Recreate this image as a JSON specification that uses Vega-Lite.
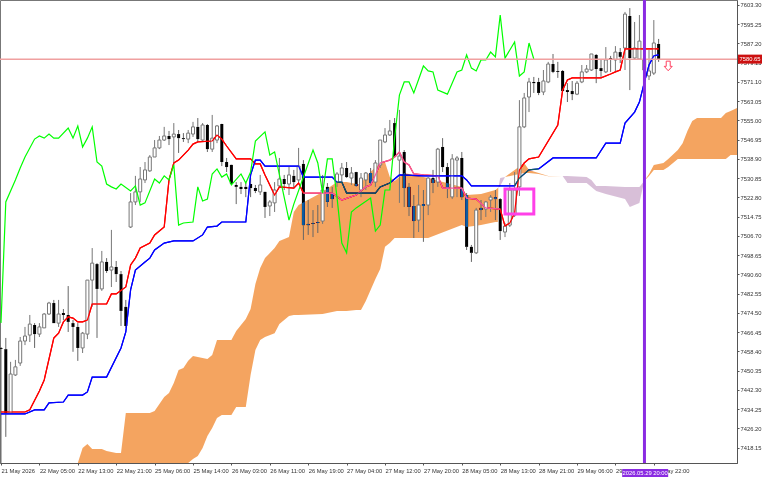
{
  "$schema": "https://vega.github.io/schema/vega-lite/v6.json",
  "width": 737,
  "height": 463,
  "autosize": {"type": "none"},
  "padding": {"left": 0, "top": 0, "right": 31, "bottom": 17},
  "background": "white",
  "config": {
    "view": {"stroke": "#777", "strokeWidth": 1},
    "font": "Liberation Sans",
    "axis": {"labelOverlap": false, "labelBound": false, "labelFlush": false}
  },
  "datasets": {
    "candles": [
      {"bar":0,"open":7459.8,"high":7460.2,"low":7411.7,"close":7459.4},
      {"bar":1,"open":7459.3,"high":7464.0,"low":7422.6,"close":7432.6},
      {"bar":2,"open":7432.6,"high":7454.0,"low":7432.4,"close":7448.9},
      {"bar":3,"open":7448.5,"high":7454.8,"low":7448.1,"close":7451.9},
      {"bar":4,"open":7453.5,"high":7464.4,"low":7452.3,"close":7462.7},
      {"bar":5,"open":7462.7,"high":7468.6,"low":7461.0,"close":7464.8},
      {"bar":6,"open":7465.2,"high":7473.6,"low":7462.3,"close":7469.8},
      {"bar":7,"open":7469.4,"high":7470.2,"low":7459.8,"close":7465.6},
      {"bar":8,"open":7465.6,"high":7470.2,"low":7464.4,"close":7468.6},
      {"bar":9,"open":7468.2,"high":7474.4,"low":7468.2,"close":7474.0},
      {"bar":10,"open":7474.0,"high":7479.1,"low":7473.6,"close":7478.6},
      {"bar":11,"open":7478.6,"high":7479.9,"low":7470.2,"close":7470.2},
      {"bar":12,"open":7470.2,"high":7479.9,"low":7468.6,"close":7474.0},
      {"bar":13,"open":7474.4,"high":7476.1,"low":7471.5,"close":7473.6},
      {"bar":14,"open":7473.6,"high":7485.7,"low":7466.5,"close":7470.7},
      {"bar":15,"open":7470.2,"high":7471.5,"low":7458.2,"close":7468.6},
      {"bar":16,"open":7468.6,"high":7470.2,"low":7454.4,"close":7459.8},
      {"bar":17,"open":7459.8,"high":7466.5,"low":7457.7,"close":7466.0},
      {"bar":18,"open":7465.6,"high":7488.2,"low":7463.5,"close":7488.2},
      {"bar":19,"open":7488.2,"high":7501.6,"low":7477.0,"close":7495.3},
      {"bar":20,"open":7494.9,"high":7495.3,"low":7464.0,"close":7484.5},
      {"bar":21,"open":7484.5,"high":7500.4,"low":7483.7,"close":7495.8},
      {"bar":22,"open":7495.8,"high":7497.4,"low":7491.2,"close":7492.0},
      {"bar":23,"open":7492.4,"high":7509.2,"low":7485.3,"close":7493.7},
      {"bar":24,"open":7493.7,"high":7496.2,"low":7487.4,"close":7490.7},
      {"bar":25,"open":7490.7,"high":7492.0,"low":7469.0,"close":7475.3},
      {"bar":26,"open":7477.0,"high":7479.9,"low":7468.2,"close":7469.0},
      {"bar":27,"open":7510.4,"high":7524.6,"low":7510.0,"close":7520.9},
      {"bar":28,"open":7520.9,"high":7531.8,"low":7519.6,"close":7525.1},
      {"bar":29,"open":7525.1,"high":7535.5,"low":7520.9,"close":7530.5},
      {"bar":30,"open":7530.1,"high":7537.6,"low":7528.8,"close":7534.3},
      {"bar":31,"open":7533.9,"high":7540.5,"low":7533.5,"close":7539.7},
      {"bar":32,"open":7539.7,"high":7546.8,"low":7539.7,"close":7543.5},
      {"bar":33,"open":7543.5,"high":7548.5,"low":7543.0,"close":7546.8},
      {"bar":34,"open":7546.8,"high":7552.3,"low":7546.4,"close":7548.5},
      {"bar":35,"open":7548.5,"high":7550.6,"low":7544.7,"close":7547.2},
      {"bar":36,"open":7548.1,"high":7553.9,"low":7536.3,"close":7549.3},
      {"bar":37,"open":7549.3,"high":7551.0,"low":7541.4,"close":7547.6},
      {"bar":38,"open":7547.6,"high":7549.7,"low":7546.0,"close":7547.2},
      {"bar":39,"open":7547.2,"high":7551.0,"low":7545.5,"close":7549.7},
      {"bar":40,"open":7549.3,"high":7554.4,"low":7548.1,"close":7552.3},
      {"bar":41,"open":7552.3,"high":7556.0,"low":7546.0,"close":7547.2},
      {"bar":42,"open":7546.8,"high":7553.9,"low":7546.0,"close":7553.1},
      {"bar":43,"open":7553.1,"high":7553.5,"low":7541.8,"close":7543.0},
      {"bar":44,"open":7543.0,"high":7557.3,"low":7541.8,"close":7547.6},
      {"bar":45,"open":7546.8,"high":7553.1,"low":7545.5,"close":7552.7},
      {"bar":46,"open":7553.5,"high":7553.6,"low":7535.9,"close":7537.6},
      {"bar":47,"open":7537.6,"high":7539.3,"low":7533.4,"close":7535.5},
      {"bar":48,"open":7536.4,"high":7536.5,"low":7528.0,"close":7528.4},
      {"bar":49,"open":7528.0,"high":7529.2,"low":7520.0,"close":7527.2},
      {"bar":50,"open":7527.2,"high":7529.2,"low":7524.2,"close":7526.3},
      {"bar":51,"open":7527.2,"high":7528.8,"low":7522.9,"close":7526.3},
      {"bar":52,"open":7528.4,"high":7530.9,"low":7522.9,"close":7526.7},
      {"bar":53,"open":7526.7,"high":7528.0,"low":7524.6,"close":7525.5},
      {"bar":54,"open":7525.1,"high":7532.2,"low":7523.8,"close":7528.0},
      {"bar":55,"open":7525.1,"high":7525.2,"low":7514.2,"close":7518.8},
      {"bar":56,"open":7519.2,"high":7521.7,"low":7515.0,"close":7520.9},
      {"bar":57,"open":7520.5,"high":7529.2,"low":7516.7,"close":7525.9},
      {"bar":58,"open":7527.6,"high":7539.3,"low":7526.7,"close":7530.5},
      {"bar":59,"open":7530.5,"high":7532.2,"low":7525.9,"close":7528.4},
      {"bar":60,"open":7528.4,"high":7535.9,"low":7523.8,"close":7532.2},
      {"bar":61,"open":7531.8,"high":7534.3,"low":7526.7,"close":7529.2},
      {"bar":62,"open":7530.1,"high":7543.5,"low":7529.2,"close":7535.9},
      {"bar":63,"open":7536.8,"high":7538.4,"low":7505.0,"close":7511.2},
      {"bar":64,"open":7511.7,"high":7521.7,"low":7507.1,"close":7511.2},
      {"bar":65,"open":7512.1,"high":7517.5,"low":7506.2,"close":7511.7},
      {"bar":66,"open":7512.5,"high":7519.6,"low":7507.9,"close":7512.1},
      {"bar":67,"open":7512.9,"high":7532.2,"low":7511.7,"close":7525.9},
      {"bar":68,"open":7527.2,"high":7528.8,"low":7518.8,"close":7520.9},
      {"bar":69,"open":7524.6,"high":7527.2,"low":7518.4,"close":7522.1},
      {"bar":70,"open":7529.2,"high":7533.4,"low":7527.2,"close":7532.6},
      {"bar":71,"open":7532.2,"high":7537.2,"low":7528.8,"close":7535.1},
      {"bar":72,"open":7535.1,"high":7537.6,"low":7530.9,"close":7531.3},
      {"bar":73,"open":7530.9,"high":7535.5,"low":7528.0,"close":7533.0},
      {"bar":74,"open":7533.4,"high":7533.5,"low":7527.2,"close":7527.6},
      {"bar":75,"open":7525.9,"high":7533.0,"low":7522.9,"close":7530.9},
      {"bar":76,"open":7530.1,"high":7533.4,"low":7525.9,"close":7533.0},
      {"bar":77,"open":7533.0,"high":7535.1,"low":7528.0,"close":7528.8},
      {"bar":78,"open":7529.2,"high":7538.4,"low":7527.2,"close":7537.2},
      {"bar":79,"open":7536.3,"high":7546.8,"low":7535.1,"close":7546.8},
      {"bar":80,"open":7546.0,"high":7551.8,"low":7545.5,"close":7548.9},
      {"bar":81,"open":7548.9,"high":7555.2,"low":7548.5,"close":7550.6},
      {"bar":82,"open":7553.9,"high":7556.0,"low":7539.3,"close":7539.7},
      {"bar":83,"open":7538.4,"high":7559.4,"low":7520.5,"close":7540.1},
      {"bar":84,"open":7541.8,"high":7542.6,"low":7518.8,"close":7526.7},
      {"bar":85,"open":7527.2,"high":7528.8,"low":7515.0,"close":7518.8},
      {"bar":86,"open":7519.2,"high":7523.8,"low":7505.8,"close":7512.9},
      {"bar":87,"open":7513.3,"high":7528.0,"low":7508.3,"close":7519.6},
      {"bar":88,"open":7520.0,"high":7525.9,"low":7504.2,"close":7519.2},
      {"bar":89,"open":7519.6,"high":7531.3,"low":7515.4,"close":7530.9},
      {"bar":90,"open":7530.9,"high":7534.3,"low":7524.6,"close":7528.8},
      {"bar":91,"open":7529.2,"high":7543.5,"low":7527.2,"close":7543.0},
      {"bar":92,"open":7543.9,"high":7547.6,"low":7533.4,"close":7535.5},
      {"bar":93,"open":7535.5,"high":7537.2,"low":7522.5,"close":7526.3},
      {"bar":94,"open":7523.0,"high":7540.9,"low":7522.1,"close":7538.9},
      {"bar":95,"open":7538.4,"high":7540.1,"low":7522.9,"close":7539.3},
      {"bar":96,"open":7539.3,"high":7541.8,"low":7521.7,"close":7522.9},
      {"bar":97,"open":7523.8,"high":7524.6,"low":7500.8,"close":7502.1},
      {"bar":98,"open":7502.1,"high":7502.9,"low":7495.8,"close":7499.6},
      {"bar":99,"open":7499.6,"high":7518.4,"low":7499.1,"close":7517.5},
      {"bar":100,"open":7518.4,"high":7521.7,"low":7513.3,"close":7517.5},
      {"bar":101,"open":7517.9,"high":7521.3,"low":7514.6,"close":7520.9},
      {"bar":102,"open":7521.7,"high":7523.8,"low":7516.7,"close":7522.9},
      {"bar":103,"open":7522.9,"high":7525.9,"low":7513.3,"close":7522.1},
      {"bar":104,"open":7522.1,"high":7522.5,"low":7505.0,"close":7508.7},
      {"bar":105,"open":7508.3,"high":7512.1,"low":7506.2,"close":7510.8},
      {"bar":106,"open":7511.2,"high":7528.8,"low":7510.4,"close":7525.9},
      {"bar":107,"open":7515.4,"high":7533.4,"low":7514.6,"close":7525.9},
      {"bar":108,"open":7527.2,"high":7563.5,"low":7523.4,"close":7552.3},
      {"bar":109,"open":7552.3,"high":7566.5,"low":7551.8,"close":7564.4},
      {"bar":110,"open":7564.8,"high":7572.8,"low":7558.5,"close":7571.1},
      {"bar":111,"open":7571.1,"high":7573.2,"low":7566.5,"close":7570.6},
      {"bar":112,"open":7571.1,"high":7572.8,"low":7565.6,"close":7566.5},
      {"bar":113,"open":7566.9,"high":7576.1,"low":7565.6,"close":7571.5},
      {"bar":114,"open":7571.1,"high":7579.5,"low":7570.6,"close":7578.6},
      {"bar":115,"open":7578.6,"high":7582.8,"low":7574.8,"close":7575.3},
      {"bar":116,"open":7575.7,"high":7579.5,"low":7572.8,"close":7575.3},
      {"bar":117,"open":7575.7,"high":7576.1,"low":7566.9,"close":7567.3},
      {"bar":118,"open":7567.7,"high":7570.6,"low":7562.7,"close":7566.9},
      {"bar":119,"open":7567.3,"high":7571.5,"low":7563.5,"close":7566.0},
      {"bar":120,"open":7566.0,"high":7571.5,"low":7565.6,"close":7570.6},
      {"bar":121,"open":7571.1,"high":7578.2,"low":7570.6,"close":7575.3},
      {"bar":122,"open":7575.3,"high":7578.2,"low":7574.8,"close":7576.5},
      {"bar":123,"open":7576.1,"high":7582.8,"low":7575.7,"close":7582.8},
      {"bar":124,"open":7582.4,"high":7582.8,"low":7570.6,"close":7576.5},
      {"bar":125,"open":7576.9,"high":7580.3,"low":7573.2,"close":7575.7},
      {"bar":126,"open":7575.3,"high":7585.7,"low":7574.8,"close":7580.3},
      {"bar":127,"open":7581.1,"high":7582.0,"low":7575.3,"close":7580.7},
      {"bar":128,"open":7580.3,"high":7586.1,"low":7575.3,"close":7583.6},
      {"bar":129,"open":7583.6,"high":7585.3,"low":7579.0,"close":7581.6},
      {"bar":130,"open":7585.3,"high":7600.4,"low":7576.1,"close":7599.5},
      {"bar":131,"open":7598.7,"high":7602.0,"low":7567.7,"close":7581.1},
      {"bar":132,"open":7581.1,"high":7596.2,"low":7580.3,"close":7585.3},
      {"bar":133,"open":7580.7,"high":7599.1,"low":7580.3,"close":7588.2},
      {"bar":134,"open":7576.1,"high":7584.5,"low":7575.3,"close":7580.3},
      {"bar":135,"open":7573.6,"high":7584.5,"low":7571.9,"close":7575.7},
      {"bar":136,"open":7574.8,"high":7597.0,"low":7574.0,"close":7587.4},
      {"bar":137,"open":7587.0,"high":7589.1,"low":7579.5,"close":7580.7}
    ],
    "tenkan": [
      {"bar":0,"price":7433.0},{"bar":5,"price":7433.0},{"bar":6,"price":7433.9},{"bar":8,"price":7441.8},
      {"bar":9,"price":7446.4},{"bar":11,"price":7463.9},{"bar":12,"price":7466.0},{"bar":13,"price":7470.7},
      {"bar":14,"price":7472.8},{"bar":15,"price":7472.3},{"bar":16,"price":7470.7},{"bar":17,"price":7470.7},
      {"bar":18,"price":7471.5},{"bar":19,"price":7478.2},{"bar":22,"price":7478.2},{"bar":23,"price":7482.4},
      {"bar":24,"price":7482.4},{"bar":26,"price":7485.3},{"bar":27,"price":7494.5},{"bar":28,"price":7497.4},
      {"bar":29,"price":7501.6},{"bar":31,"price":7503.7},{"bar":32,"price":7507.1},{"bar":34,"price":7510.4},
      {"bar":35,"price":7530.1},{"bar":36,"price":7537.2},{"bar":37,"price":7538.4},{"bar":39,"price":7542.6},
      {"bar":40,"price":7545.1},{"bar":41,"price":7546.0},{"bar":44,"price":7546.4},{"bar":45,"price":7548.9},
      {"bar":46,"price":7547.2},{"bar":47,"price":7544.3},{"bar":49,"price":7538.9},{"bar":52,"price":7538.9},
      {"bar":53,"price":7536.8},{"bar":54,"price":7536.8},{"bar":55,"price":7532.2},{"bar":57,"price":7523.8},
      {"bar":58,"price":7527.2},{"bar":61,"price":7526.7},{"bar":62,"price":7528.8},{"bar":63,"price":7524.6},
      {"bar":69,"price":7524.6},{"bar":71,"price":7521.7},{"bar":74,"price":7523.8},{"bar":76,"price":7527.2},
      {"bar":77,"price":7528.0},{"bar":78,"price":7532.2},{"bar":79,"price":7537.2},{"bar":81,"price":7538.4},
      {"bar":82,"price":7539.7},{"bar":83,"price":7541.8},{"bar":84,"price":7537.6},{"bar":85,"price":7536.4},
      {"bar":86,"price":7532.6},{"bar":88,"price":7532.2},{"bar":91,"price":7531.8},{"bar":92,"price":7526.7},
      {"bar":96,"price":7526.7},{"bar":97,"price":7522.5},{"bar":99,"price":7522.1},{"bar":101,"price":7518.4},
      {"bar":104,"price":7517.9},{"bar":105,"price":7510.8},{"bar":106,"price":7512.1},{"bar":107,"price":7516.3},
      {"bar":108,"price":7534.3},{"bar":109,"price":7537.2},{"bar":110,"price":7538.9},{"bar":112,"price":7539.7},
      {"bar":116,"price":7553.1},{"bar":117,"price":7567.7},{"bar":118,"price":7571.9},{"bar":119,"price":7572.8},
      {"bar":125,"price":7572.8},{"bar":127,"price":7574.4},{"bar":128,"price":7575.3},{"bar":129,"price":7576.1},
      {"bar":130,"price":7584.9},{"bar":137,"price":7584.9}
    ],
    "kijun": [
      {"bar":0,"price":7432.2},{"bar":5,"price":7432.2},{"bar":7,"price":7433.9},{"bar":9,"price":7433.9},
      {"bar":10,"price":7436.8},{"bar":13,"price":7437.2},{"bar":14,"price":7440.1},{"bar":17,"price":7440.1},
      {"bar":18,"price":7441.4},{"bar":19,"price":7447.6},{"bar":22,"price":7447.6},{"bar":25,"price":7459.8},
      {"bar":26,"price":7466.5},{"bar":27,"price":7484.1},{"bar":28,"price":7492.4},{"bar":30,"price":7495.8},
      {"bar":31,"price":7497.4},{"bar":32,"price":7500.8},{"bar":34,"price":7503.7},{"bar":36,"price":7504.6},
      {"bar":40,"price":7504.6},{"bar":42,"price":7507.1},{"bar":43,"price":7510.4},{"bar":45,"price":7510.8},
      {"bar":46,"price":7512.5},{"bar":51,"price":7512.5},{"bar":52,"price":7532.2},{"bar":53,"price":7538.4},
      {"bar":54,"price":7538.4},{"bar":55,"price":7535.9},{"bar":62,"price":7535.9},{"bar":63,"price":7531.3},
      {"bar":69,"price":7531.3},{"bar":70,"price":7529.2},{"bar":71,"price":7529.2},{"bar":72,"price":7524.6},
      {"bar":78,"price":7524.6},{"bar":79,"price":7527.2},{"bar":81,"price":7528.8},{"bar":83,"price":7532.2},
      {"bar":88,"price":7531.8},{"bar":96,"price":7531.8},{"bar":97,"price":7530.1},{"bar":98,"price":7527.6},
      {"bar":107,"price":7527.6},{"bar":108,"price":7530.9},{"bar":110,"price":7534.3},{"bar":112,"price":7534.7},
      {"bar":115,"price":7539.3},{"bar":124,"price":7539.3},{"bar":126,"price":7545.5},{"bar":129,"price":7545.5},
      {"bar":130,"price":7553.9},{"bar":132,"price":7558.5},{"bar":133,"price":7562.7},{"bar":134,"price":7570.7},
      {"bar":135,"price":7578.2},{"bar":136,"price":7582.0},{"bar":137,"price":7582.4}
    ],
    "chikou": [
      {"bar":0,"price":7470.3},{"bar":1,"price":7520.9},{"bar":3,"price":7530.1},{"bar":4,"price":7535.1},
      {"bar":5,"price":7539.7},{"bar":7,"price":7547.2},{"bar":8,"price":7548.5},{"bar":9,"price":7547.6},
      {"bar":10,"price":7549.3},{"bar":11,"price":7547.6},{"bar":12,"price":7547.6},{"bar":14,"price":7551.8},
      {"bar":15,"price":7547.6},{"bar":16,"price":7552.7},{"bar":17,"price":7543.9},{"bar":18,"price":7547.6},
      {"bar":19,"price":7552.3},{"bar":20,"price":7537.6},{"bar":21,"price":7535.9},{"bar":22,"price":7528.4},
      {"bar":23,"price":7527.2},{"bar":24,"price":7526.3},{"bar":25,"price":7528.4},{"bar":27,"price":7525.5},
      {"bar":28,"price":7527.6},{"bar":29,"price":7519.6},{"bar":30,"price":7520.5},{"bar":32,"price":7530.5},
      {"bar":33,"price":7528.8},{"bar":34,"price":7531.8},{"bar":35,"price":7530.1},{"bar":36,"price":7536.4},
      {"bar":37,"price":7511.2},{"bar":38,"price":7512.1},{"bar":40,"price":7512.5},{"bar":41,"price":7527.2},
      {"bar":42,"price":7521.3},{"bar":43,"price":7522.1},{"bar":44,"price":7532.6},{"bar":45,"price":7534.7},
      {"bar":46,"price":7531.3},{"bar":47,"price":7532.6},{"bar":48,"price":7528.0},{"bar":50,"price":7532.6},
      {"bar":51,"price":7528.8},{"bar":52,"price":7533.4},{"bar":53,"price":7546.4},{"bar":55,"price":7550.2},
      {"bar":56,"price":7540.5},{"bar":57,"price":7541.8},{"bar":60,"price":7513.3},{"bar":61,"price":7520.0},
      {"bar":65,"price":7542.6},{"bar":66,"price":7537.2},{"bar":67,"price":7524.6},{"bar":68,"price":7538.9},
      {"bar":69,"price":7538.9},{"bar":70,"price":7522.9},{"bar":71,"price":7503.7},{"bar":72,"price":7499.6},
      {"bar":73,"price":7516.7},{"bar":74,"price":7518.4},{"bar":77,"price":7522.5},{"bar":78,"price":7508.7},
      {"bar":79,"price":7511.2},{"bar":80,"price":7525.9},{"bar":81,"price":7525.9},{"bar":82,"price":7547.6},
      {"bar":83,"price":7565.6},{"bar":84,"price":7571.1},{"bar":85,"price":7571.1},{"bar":86,"price":7566.5},
      {"bar":88,"price":7577.8},{"bar":89,"price":7575.7},{"bar":90,"price":7575.3},{"bar":91,"price":7567.7},
      {"bar":93,"price":7566.0},{"bar":95,"price":7575.3},{"bar":96,"price":7576.1},{"bar":97,"price":7582.4},
      {"bar":98,"price":7576.9},{"bar":99,"price":7575.7},{"bar":100,"price":7580.3},{"bar":101,"price":7580.3},
      {"bar":102,"price":7583.6},{"bar":103,"price":7581.6},{"bar":104,"price":7599.1},{"bar":105,"price":7581.1},
      {"bar":107,"price":7587.8},{"bar":108,"price":7573.6},{"bar":109,"price":7575.3},{"bar":110,"price":7587.4},
      {"bar":111,"price":7580.7}
    ],
    "cloud": [
      {"bar":16,"upper":7411.7,"lower":7411.7,"kumo":"bull"},
      {"bar":17,"upper":7417.9,"lower":7411.7,"kumo":"bull"},
      {"bar":18,"upper":7419.6,"lower":7411.7,"kumo":"bull"},
      {"bar":19,"upper":7417.5,"lower":7411.7,"kumo":"bull"},
      {"bar":21,"upper":7417.5,"lower":7411.7,"kumo":"bull"},
      {"bar":22,"upper":7416.7,"lower":7411.7,"kumo":"bull"},
      {"bar":24,"upper":7415.9,"lower":7411.7,"kumo":"bull"},
      {"bar":25,"upper":7415.9,"lower":7411.7,"kumo":"bull"},
      {"bar":26,"upper":7432.6,"lower":7411.7,"kumo":"bull"},
      {"bar":31,"upper":7432.6,"lower":7411.7,"kumo":"bull"},
      {"bar":32,"upper":7433.4,"lower":7411.7,"kumo":"bull"},
      {"bar":34,"upper":7439.3,"lower":7411.7,"kumo":"bull"},
      {"bar":35,"upper":7441.0,"lower":7411.7,"kumo":"bull"},
      {"bar":36,"upper":7445.1,"lower":7411.7,"kumo":"bull"},
      {"bar":37,"upper":7450.6,"lower":7411.7,"kumo":"bull"},
      {"bar":38,"upper":7451.4,"lower":7411.7,"kumo":"bull"},
      {"bar":39,"upper":7454.4,"lower":7411.7,"kumo":"bull"},
      {"bar":40,"upper":7456.4,"lower":7413.3,"kumo":"bull"},
      {"bar":41,"upper":7456.0,"lower":7414.6,"kumo":"bull"},
      {"bar":42,"upper":7455.6,"lower":7417.9,"kumo":"bull"},
      {"bar":43,"upper":7455.2,"lower":7423.0,"kumo":"bull"},
      {"bar":44,"upper":7456.9,"lower":7426.3,"kumo":"bull"},
      {"bar":45,"upper":7463.1,"lower":7430.5,"kumo":"bull"},
      {"bar":46,"upper":7463.1,"lower":7431.8,"kumo":"bull"},
      {"bar":48,"upper":7463.1,"lower":7431.8,"kumo":"bull"},
      {"bar":49,"upper":7466.9,"lower":7435.1,"kumo":"bull"},
      {"bar":51,"upper":7471.9,"lower":7435.1,"kumo":"bull"},
      {"bar":52,"upper":7476.1,"lower":7448.5,"kumo":"bull"},
      {"bar":53,"upper":7486.6,"lower":7459.0,"kumo":"bull"},
      {"bar":54,"upper":7493.3,"lower":7463.1,"kumo":"bull"},
      {"bar":55,"upper":7497.4,"lower":7464.4,"kumo":"bull"},
      {"bar":57,"upper":7501.6,"lower":7466.0,"kumo":"bull"},
      {"bar":58,"upper":7504.6,"lower":7469.8,"kumo":"bull"},
      {"bar":60,"upper":7506.2,"lower":7473.2,"kumo":"bull"},
      {"bar":61,"upper":7516.7,"lower":7473.6,"kumo":"bull"},
      {"bar":62,"upper":7519.6,"lower":7473.6,"kumo":"bull"},
      {"bar":67,"upper":7525.1,"lower":7474.0,"kumo":"bull"},
      {"bar":70,"upper":7529.2,"lower":7475.3,"kumo":"bull"},
      {"bar":72,"upper":7529.2,"lower":7475.3,"kumo":"bull"},
      {"bar":74,"upper":7528.4,"lower":7475.7,"kumo":"bull"},
      {"bar":75,"upper":7528.4,"lower":7475.7,"kumo":"bull"},
      {"bar":76,"upper":7531.8,"lower":7479.5,"kumo":"bull"},
      {"bar":77,"upper":7533.4,"lower":7484.1,"kumo":"bull"},
      {"bar":78,"upper":7535.5,"lower":7488.7,"kumo":"bull"},
      {"bar":79,"upper":7536.8,"lower":7492.8,"kumo":"bull"},
      {"bar":80,"upper":7537.6,"lower":7502.1,"kumo":"bull"},
      {"bar":81,"upper":7531.3,"lower":7503.7,"kumo":"bull"},
      {"bar":82,"upper":7529.7,"lower":7505.8,"kumo":"bull"},
      {"bar":83,"upper":7531.3,"lower":7505.8,"kumo":"bull"},
      {"bar":84,"upper":7533.0,"lower":7505.8,"kumo":"bull"},
      {"bar":89,"upper":7530.9,"lower":7505.8,"kumo":"bull"},
      {"bar":96,"upper":7527.2,"lower":7511.2,"kumo":"bull"},
      {"bar":97,"upper":7523.8,"lower":7510.4,"kumo":"bull"},
      {"bar":100,"upper":7524.2,"lower":7511.2,"kumo":"bull"},
      {"bar":103,"upper":7525.9,"lower":7512.5,"kumo":"bull"},
      {"bar":103.5,"upper":7526.7,"lower":7512.5,"kumo":"bull"},
      {"bar":103.6,"upper":7526.7,"lower":7526.7,"kumo":"bull"},
      {"bar":103.6,"upper":7526.7,"lower":7526.7,"kumo":"bear"},
      {"bar":104,"upper":7530.9,"lower":7527.6,"kumo":"bear"},
      {"bar":105,"upper":7531.3,"lower":7531.3,"kumo":"bear"},
      {"bar":105,"upper":7531.3,"lower":7531.3,"kumo":"bull2"},
      {"bar":107,"upper":7534.3,"lower":7532.2,"kumo":"bull2"},
      {"bar":109,"upper":7537.2,"lower":7533.0,"kumo":"bull2"},
      {"bar":110,"upper":7534.3,"lower":7533.0,"kumo":"bull2"},
      {"bar":112,"upper":7533.0,"lower":7532.6,"kumo":"bull2"},
      {"bar":114,"upper":7531.8,"lower":7531.6,"kumo":"bull2"},
      {"bar":117,"upper":7531.8,"lower":7531.8,"kumo":"bull2"},
      {"bar":117,"upper":7531.8,"lower":7531.8,"kumo":"bear2"},
      {"bar":118,"upper":7531.8,"lower":7528.8,"kumo":"bear2"},
      {"bar":122,"upper":7531.3,"lower":7528.8,"kumo":"bear2"},
      {"bar":123,"upper":7530.1,"lower":7527.2,"kumo":"bear2"},
      {"bar":124,"upper":7527.6,"lower":7525.5,"kumo":"bear2"},
      {"bar":126,"upper":7527.6,"lower":7524.2,"kumo":"bear2"},
      {"bar":130,"upper":7527.2,"lower":7522.1,"kumo":"bear2"},
      {"bar":131,"upper":7527.2,"lower":7518.8,"kumo":"bear2"},
      {"bar":133,"upper":7527.2,"lower":7520.5,"kumo":"bear2"},
      {"bar":134,"upper":7529.7,"lower":7529.7,"kumo":"bear2"},
      {"bar":134,"upper":7529.7,"lower":7529.7,"kumo":"bull3"},
      {"bar":135,"upper":7532.6,"lower":7531.8,"kumo":"bull3"},
      {"bar":136,"upper":7536.4,"lower":7534.3,"kumo":"bull3"},
      {"bar":138,"upper":7537.2,"lower":7534.3,"kumo":"bull3"},
      {"bar":139,"upper":7538.9,"lower":7535.5,"kumo":"bull3"},
      {"bar":141,"upper":7542.6,"lower":7538.9,"kumo":"bull3"},
      {"bar":142,"upper":7545.5,"lower":7538.9,"kumo":"bull3"},
      {"bar":143,"upper":7550.6,"lower":7538.9,"kumo":"bull3"},
      {"bar":144,"upper":7554.8,"lower":7538.9,"kumo":"bull3"},
      {"bar":145,"upper":7556.0,"lower":7538.9,"kumo":"bull3"},
      {"bar":150,"upper":7556.0,"lower":7538.9,"kumo":"bull3"},
      {"bar":151,"upper":7558.1,"lower":7538.9,"kumo":"bull3"},
      {"bar":152,"upper":7558.9,"lower":7540.5,"kumo":"bull3"},
      {"bar":153.33,"upper":7560.2,"lower":7540.5,"kumo":"bull3"}
    ]
  },
  "layer": [
    {
      "data": {"name": "candles"},
      "transform": [{"filter": "datum.close < datum.open"}],
      "mark": {"type": "bar", "size": 3, "color": "#000"},
      "encoding": {
        "x": {
          "field": "bar", "type": "quantitative", "title": null,
          "scale": {"domain": [-0.208, 153.33], "nice": false, "zero": false, "padding": 0},
          "axis": {
            "values": [0,8,16,24,32,40,48,56,64,72,80,88,96,104,112,120,128,136],
            "tickCount": 40,
            "labelExpr": "['21 May 2026','22 May 05:00','22 May 13:00','22 May 21:00','25 May 06:00','25 May 14:00','26 May 03:00','26 May 11:00','26 May 19:00','27 May 04:00','27 May 12:00','27 May 20:00','28 May 05:00','28 May 13:00','28 May 21:00','29 May 06:00','29 May 14:00','29 May 22:00'][datum.value / 8]",
            "grid": false, "labelAlign": "left", "labelFontSize": 5.8, "labelColor": "#333",
            "labelPadding": 2, "labelOverlap": false, "labelFlush": false,
            "tickSize": 2, "tickColor": "#555", "domainColor": "#555"
          }
        },
        "y": {
          "field": "open", "type": "quantitative", "title": null,
          "scale": {"domain": [7411.67, 7605.39], "nice": false, "zero": false},
          "axis": {
            "orient": "right",
            "values": [7603.3,7595.25,7587.2,7579.15,7571.1,7563.05,7555,7546.95,7538.9,7530.85,7522.8,7514.75,7506.7,7498.65,7490.6,7482.55,7474.5,7466.45,7458.4,7450.35,7442.3,7434.25,7426.2,7418.15],
            "tickCount": 40,
            "format": ".2f", "grid": false, "labelFontSize": 5.8, "labelColor": "#333",
            "labelPadding": 1, "labelOverlap": false, "labelFlush": false,
            "tickSize": 2, "tickColor": "#555", "domainColor": "#555"
          }
        },
        "y2": {"field": "close"}
      }
    },
    {
      "data": {"name": "tenkan"},
      "mark": {"type": "line", "color": "#FF0000", "strokeWidth": 1.2},
      "encoding": {
        "x": {"field": "bar", "type": "quantitative"},
        "y": {"field": "price", "type": "quantitative"}
      }
    },
    {
      "data": {"name": "kijun"},
      "mark": {"type": "line", "color": "#0000FF", "strokeWidth": 1.2},
      "encoding": {
        "x": {"field": "bar", "type": "quantitative"},
        "y": {"field": "price", "type": "quantitative"}
      }
    },
    {
      "data": {"name": "cloud"},
      "mark": {"type": "area", "blend": "difference", "line": false},
      "encoding": {
        "x": {"field": "bar", "type": "quantitative"},
        "y": {"field": "upper", "type": "quantitative"},
        "y2": {"field": "lower"},
        "color": {
          "field": "kumo", "type": "nominal", "legend": null,
          "scale": {
            "domain": ["bull", "bull2", "bull3", "bear", "bear2"],
            "range": ["#0B5B9F", "#0B5B9F", "#0B5B9F", "#274027", "#274027"]
          }
        }
      }
    },
    {
      "data": {"name": "candles"},
      "transform": [{"filter": "datum.close < datum.open"}],
      "mark": {"type": "rule", "color": "#666", "strokeWidth": 1},
      "encoding": {
        "x": {"field": "bar", "type": "quantitative"},
        "y": {"field": "high", "type": "quantitative"},
        "y2": {"field": "open"}
      }
    },
    {
      "data": {"name": "candles"},
      "transform": [{"filter": "datum.close < datum.open"}],
      "mark": {"type": "rule", "color": "#666", "strokeWidth": 1},
      "encoding": {
        "x": {"field": "bar", "type": "quantitative"},
        "y": {"field": "close", "type": "quantitative"},
        "y2": {"field": "low"}
      }
    },
    {
      "data": {"name": "candles"},
      "transform": [{"filter": "datum.close >= datum.open"}],
      "mark": {"type": "rule", "color": "#777", "strokeWidth": 1},
      "encoding": {
        "x": {"field": "bar", "type": "quantitative"},
        "y": {"field": "low", "type": "quantitative"},
        "y2": {"field": "high"}
      }
    },
    {
      "data": {"name": "candles"},
      "transform": [{"filter": "datum.close >= datum.open"}],
      "mark": {"type": "bar", "size": 3, "fill": "#fff", "stroke": "#777", "strokeWidth": 1},
      "encoding": {
        "x": {"field": "bar", "type": "quantitative"},
        "y": {"field": "open", "type": "quantitative"},
        "y2": {"field": "close"}
      }
    },
    {
      "data": {"name": "tenkan"},
      "transform": [{"filter": "datum.bar <= 63"}],
      "mark": {"type": "line", "color": "#FF0000", "strokeWidth": 1.2},
      "encoding": {
        "x": {"field": "bar", "type": "quantitative"},
        "y": {"field": "price", "type": "quantitative"}
      }
    },
    {
      "data": {"name": "tenkan"},
      "transform": [{"filter": "datum.bar >= 63 && datum.bar <= 104"}],
      "mark": {"type": "line", "color": "#F45B9F", "strokeWidth": 1.2},
      "encoding": {
        "x": {"field": "bar", "type": "quantitative"},
        "y": {"field": "price", "type": "quantitative"}
      }
    },
    {
      "data": {"name": "tenkan"},
      "transform": [{"filter": "datum.bar >= 104"}],
      "mark": {"type": "line", "color": "#FF0000", "strokeWidth": 1.2},
      "encoding": {
        "x": {"field": "bar", "type": "quantitative"},
        "y": {"field": "price", "type": "quantitative"}
      }
    },
    {
      "data": {"name": "kijun"},
      "transform": [{"filter": "datum.bar <= 70"}],
      "mark": {"type": "line", "color": "#0000FF", "strokeWidth": 1.2},
      "encoding": {
        "x": {"field": "bar", "type": "quantitative"},
        "y": {"field": "price", "type": "quantitative"}
      }
    },
    {
      "data": {"name": "kijun"},
      "transform": [{"filter": "datum.bar >= 70 && datum.bar <= 81"}],
      "mark": {"type": "line", "color": "#0B5B60", "strokeWidth": 1.2},
      "encoding": {
        "x": {"field": "bar", "type": "quantitative"},
        "y": {"field": "price", "type": "quantitative"}
      }
    },
    {
      "data": {"name": "kijun"},
      "transform": [{"filter": "datum.bar >= 81 && datum.bar <= 107"}],
      "mark": {"type": "line", "color": "#0000FF", "strokeWidth": 1.2},
      "encoding": {
        "x": {"field": "bar", "type": "quantitative"},
        "y": {"field": "price", "type": "quantitative"}
      }
    },
    {
      "data": {"name": "kijun"},
      "transform": [{"filter": "datum.bar >= 107 && datum.bar <= 112"}],
      "mark": {"type": "line", "color": "#0B5B60", "strokeWidth": 1.2},
      "encoding": {
        "x": {"field": "bar", "type": "quantitative"},
        "y": {"field": "price", "type": "quantitative"}
      }
    },
    {
      "data": {"name": "kijun"},
      "transform": [{"filter": "datum.bar >= 112"}],
      "mark": {"type": "line", "color": "#0000FF", "strokeWidth": 1.2},
      "encoding": {
        "x": {"field": "bar", "type": "quantitative"},
        "y": {"field": "price", "type": "quantitative"}
      }
    },
    {
      "data": {"name": "chikou"},
      "mark": {"type": "line", "color": "#00FF00", "strokeWidth": 1.2},
      "encoding": {
        "x": {"field": "bar", "type": "quantitative"},
        "y": {"field": "price", "type": "quantitative"}
      }
    },
    {
      "data": {"values": [{"price": 7580.65}]},
      "mark": {"type": "rule", "color": "#F0A0A0", "strokeWidth": 1.5},
      "encoding": {"y": {"field": "price", "type": "quantitative"}}
    },
    {
      "data": {"values": [{"bar": 134.05}]},
      "mark": {"type": "rule", "color": "#8A2BE2", "strokeWidth": 3},
      "encoding": {"x": {"field": "bar", "type": "quantitative"}}
    },
    {
      "data": {"values": [{"bar": 105, "bar2": 111, "top": 7526.3, "bottom": 7515.8}]},
      "mark": {"type": "rect", "fill": null, "stroke": "#FF40E8", "strokeWidth": 3},
      "encoding": {
        "x": {"field": "bar", "type": "quantitative"},
        "x2": {"field": "bar2"},
        "y": {"field": "top", "type": "quantitative"},
        "y2": {"field": "bottom"}
      }
    },
    {
      "data": {"values": [{"bar": 139, "price": 7577.8}]},
      "mark": {
        "type": "point", "filled": false, "size": 256, "color": "#FF4060", "strokeWidth": 1, "opacity": 1,
        "shape": "M-0.25,-0.6 L0.25,-0.6 L0.25,0.05 L0.5,0.05 L0,0.6 L-0.5,0.05 L-0.25,0.05 Z"
      },
      "encoding": {
        "x": {"field": "bar", "type": "quantitative"},
        "y": {"field": "price", "type": "quantitative"}
      }
    },
    {
      "data": {"values": [{"bar": 153.33, "price": 7580.65, "label": "7580.65"}]},
      "mark": {"type": "rect", "width": 24, "height": 9, "color": "#CC1010", "xOffset": 13},
      "encoding": {
        "x": {"field": "bar", "type": "quantitative"},
        "y": {"field": "price", "type": "quantitative"}
      }
    },
    {
      "data": {"values": [{"bar": 153.33, "price": 7580.65, "label": "7580.65"}]},
      "mark": {"type": "text", "color": "#fff", "fontSize": 5.8, "xOffset": 13},
      "encoding": {
        "x": {"field": "bar", "type": "quantitative"},
        "y": {"field": "price", "type": "quantitative"},
        "text": {"field": "label"}
      }
    },
    {
      "data": {"values": [{"bar": 134.2, "price": 7411.67, "label": "2026.05.29 20:00"}]},
      "mark": {"type": "rect", "width": 46, "height": 8, "color": "#8A2BE2", "yOffset": 10},
      "encoding": {
        "x": {"field": "bar", "type": "quantitative"},
        "y": {"field": "price", "type": "quantitative"}
      }
    },
    {
      "data": {"values": [{"bar": 134.2, "price": 7411.67, "label": "2026.05.29 20:00"}]},
      "mark": {"type": "text", "color": "#fff", "fontSize": 5.8, "yOffset": 10},
      "encoding": {
        "x": {"field": "bar", "type": "quantitative"},
        "y": {"field": "price", "type": "quantitative"},
        "text": {"field": "label"}
      }
    }
  ]
}
